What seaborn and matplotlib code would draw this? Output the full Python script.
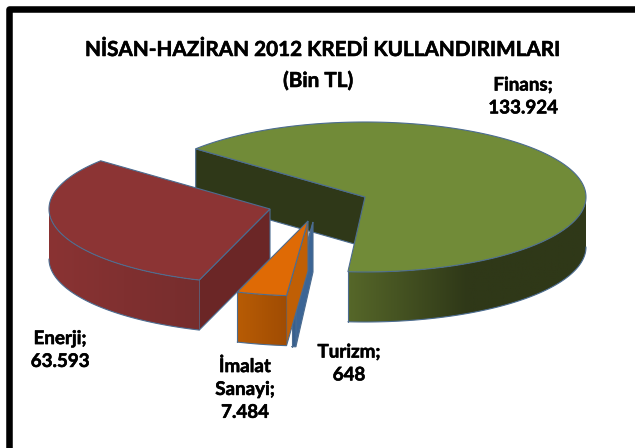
import numpy as np
import matplotlib; matplotlib.use('Agg')
import matplotlib.pyplot as plt
import matplotlib.patheffects as pe
from matplotlib.patches import Polygon
import seaborn as sns

# slices, clockwise from the back left corner
NAMES  = ['Finans', 'Turizm', 'İmalat Sanayi', 'Enerji']
VALUES = [133924, 648, 7484, 63593]
LABELS = ['133.924', '648', '7.484', '63.593']
TITLE  = ['NİSAN-HAZİRAN 2012 KREDİ KULLANDIRIMLARI', '(Bin TL)']

START = 140.0         # angle of first slice edge
RX, RY, DEPTH = 221, 75, 50
EDGE = '#4C6C90'

# exploded apex of each slice, in pixels
APEX = {'Finans': (365, 197), 'Turizm': (313, 222), 'İmalat Sanayi': (308, 221), 'Enerji': (270, 209)}

STYLE = {
    'Finans':        dict(top='#718B38', cut='#2F3818', side=['#566729', '#2F3818', '#2F3818']),
    'Turizm':        dict(top='#4370A5', cut='#3C6595', side=['#38608E', '#38608E']),
    'İmalat Sanayi': dict(top='#DF6A05', cut='#C05F05', side=['#B85C05', '#A04C03']),
    'Enerji':        dict(top='#8C3434', cut='#6B2626', side=['#8A3333', '#762D2D']),
}

sns.set_theme(style='white')
plt.rcParams['font.family'] = ['Lato', 'DejaVu Sans']

fig = plt.figure(figsize=(6.35, 4.48), dpi=100, facecolor='white')
ax = fig.add_axes([0, 0, 1, 1])
ax.axis('off')


def rim(apex, deg):
    t = np.radians(deg)
    return apex[0] + RX * np.cos(t), apex[1] - RY * np.sin(t)


def draw_slice(name, a0, a1):
    apex, st = APEX[name], STYLE[name]
    z = zo[name]
    # cut face at the starting edge
    x1, y1 = rim(apex, a0)
    ax.fill([apex[0], x1, x1, apex[0]], [apex[1], y1, y1 + DEPTH, apex[1] + DEPTH],
            facecolor=st['cut'], edgecolor=EDGE, lw=0.8, zorder=z)
    # outer wall, only the front half shows
    lo, hi = max(a1, -180), min(a0, 0)
    if hi > lo:
        ts = np.linspace(hi, lo, 120)
        xs, ys = rim(apex, ts)
        poly = Polygon(np.c_[np.r_[xs, xs[::-1]], np.r_[ys, ys[::-1] + DEPTH]], closed=True,
                       transform=ax.transData, fc='none', ec='none')
        ax.add_patch(poly)
        grad = np.array(sns.blend_palette(st['side'], 256))[None, :, :]
        im = ax.imshow(grad, extent=[xs.min(), xs.max(), ys.max() + DEPTH, ys.min()],
                       aspect='auto', interpolation='bilinear', zorder=z + 0.1)
        im.set_clip_path(poly)
        ax.plot(xs, ys + DEPTH, color=EDGE, lw=0.8, zorder=z + 0.2)
        if lo == a1:
            ax.plot([xs[-1], xs[-1]], [ys[-1], ys[-1] + DEPTH], color=EDGE, lw=0.8, zorder=z + 0.2)
    # top face
    ts = np.linspace(a0, a1, 200)
    xs, ys = rim(apex, ts)
    ax.fill(np.r_[apex[0], xs], np.r_[apex[1], ys], facecolor=st['top'], edgecolor=EDGE,
            lw=0.8, joinstyle='miter', zorder=z + 0.3)


zo = {'Finans': 2, 'Enerji': 3, 'Turizm': 4, 'İmalat Sanayi': 5}
sweeps = np.array(VALUES) / sum(VALUES) * 360
edges = START - np.r_[0, np.cumsum(sweeps)]
for name, a0, a1 in zip(NAMES, edges[:-1], edges[1:]):
    draw_slice(name, a0, a1)

ax.set_xlim(0, 635); ax.set_ylim(448, 0)

ax.plot([9, 9, 640], [452, 9, 9], color='black', lw=4.7, solid_joinstyle='round', zorder=6)

heavy = [pe.withStroke(linewidth=0.4, foreground='black')]
ax.text(321, 50, TITLE[0], ha='center', va='center', fontsize=14.9, fontweight='bold',
        color='black', zorder=7, path_effects=heavy)
ax.text(318, 81, TITLE[1], ha='center', va='center', fontsize=14.9, fontweight='bold',
        color='black', zorder=7, path_effects=heavy)

lab = dict(ha='center', va='center', fontsize=13.5, fontweight='bold', color='black',
           linespacing=1.42, zorder=7, path_effects=heavy)
ax.text(523, 96.5, f'{NAMES[0]};\n{LABELS[0]}', **lab)
ax.text(349, 363.5, f'{NAMES[1]};\n{LABELS[1]}', **lab)
ax.text(245, 389, f'İmalat\nSanayi;\n{LABELS[2]}', **lab)
ax.text(60, 350, f'{NAMES[3]};\n{LABELS[3]}', **lab)

fig.savefig('out.png', dpi=100, facecolor='white')
